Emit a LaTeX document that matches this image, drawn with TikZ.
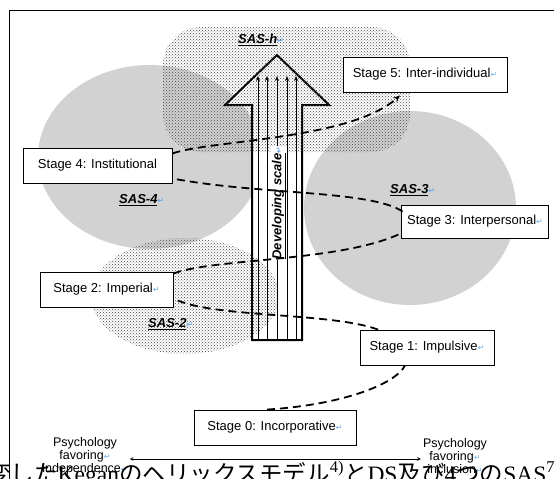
\documentclass[tikz,border=0pt]{standalone}
\usepackage{fontspec}
\setmainfont{Liberation Serif}
\setsansfont{Liberation Sans}
\newfontfamily\cjk{Noto Sans CJK JP}
\newfontfamily\symfont{DejaVu Sans}
\usepackage{tikz}
\usetikzlibrary{
    positioning,
    arrows.meta,
    calc,
    patterns
}
\definecolor{sasGray}{RGB}{210, 210, 210}
\definecolor{dotGray}{RGB}{70, 70, 70}
\definecolor{markBlue}{RGB}{110, 170, 230}
\newcommand{\retmark}{{\symfont\fontsize{8}{8}\selectfont\color{markBlue}↵}}

\begin{document}
\begin{tikzpicture}[x=1pt, y=-1pt, >=stealth,
    stagebox/.style={draw, line width=0.9pt, fill=white, minimum height=35pt,
        inner xsep=6pt, font=\sffamily\fontsize{13}{15}\selectfont},
    saslabel/.style={anchor=west, inner sep=0pt,
        font=\sffamily\bfseries\itshape\fontsize{13}{15}\selectfont},
    sidelabel/.style={align=center, inner sep=2pt,
        font=\sffamily\fontsize{12.5}{13}\selectfont},
    helix/.style={line width=1.8pt, dash pattern=on 8pt off 5pt}]
    \useasboundingbox (0,0) rectangle (554,479);

    % 枠
    \draw[line width=0.8pt] (9,490) -- (9,10) -- (560,10);

    % SAS領域
    \fill[sasGray] (150,157) ellipse [x radius=112, y radius=92]; % SAS-4
    \fill[sasGray] (410,208) ellipse [x radius=106, y radius=97]; % SAS-3

    % 発達の矢印
    \coordinate (tip) at (277,55);
    \coordinate (HL) at (225,105);
    \coordinate (HR) at (329,105);
    \draw[line width=2pt, fill=white] (252,340) -- (252,105) -- (HL) -- (tip)
        -- (HR) -- (302,105) -- (302,340) -- cycle;

    % 網掛け領域
    \fill[pattern=crosshatch dots, pattern color=dotGray, rounded corners=38pt]
        (163,27) rectangle (410,152); % SAS-h
    \fill[pattern=crosshatch dots, pattern color=dotGray]
        (185,296) ellipse [x radius=94, y radius=58]; % SAS-2

    % 目盛りの矢印
    \foreach \x in {258,267,277,287,296}
        \draw[-{Stealth[length=5pt, width=4pt]}, line width=0.8pt] (\x,340) -- (\x,76);
    \node[rotate=90, fill=white, inner sep=1pt,
        font=\sffamily\bfseries\itshape\fontsize{13}{15}\selectfont]
        (scale) at (279,203) {\underline{Developing scale}\retmark};

    % 段階
    \node[stagebox, minimum width=164pt] (s5) at (425,74.5) {Stage 5: Inter-individual\retmark};
    \node[stagebox, minimum width=149pt] (s4) at (97.5,165.5) {Stage 4: Institutional};
    \node[stagebox, minimum width=146pt, minimum height=33pt] (s3) at (475,221.5) {Stage 3: Interpersonal\retmark};
    \node[stagebox, minimum width=133pt] (s2) at (106.5,289.5) {Stage 2: Imperial\retmark};
    \node[stagebox, minimum width=134pt] (s1) at (427,347.5) {Stage 1: Impulsive\retmark};
    \node[stagebox, minimum width=162pt] (s0) at (275,427.5) {Stage 0: Incorporative\retmark};

    % らせん
    \draw[helix] ($(s0.north)+(-8,0)$) .. controls (340,405) and (395,385) .. ($(s1.south)+(-22,0)$);
    \draw[helix] ($(s1.north)+(-49,0)$) .. controls (330,312) and (210,318) .. ($(s2.east)+(0,9)$);
    \draw[helix] ($(s2.east)+(0,-16)$) .. controls (215,258) and (340,262) .. ($(s3.west)+(0,12)$);
    \draw[helix] ($(s3.west)+(2,-10)$) .. controls (370,190) and (260,195) .. ($(s4.east)+(0,13)$);
    \draw[helix, -{Stealth[length=7pt, width=6pt]}] ($(s4.east)+(0,-12)$) .. controls (210,140) and (350,140) .. ($(s5.south)+(-25,3)$);

    % ラベル
    \node[saslabel] (sash) at (238,40) {\underline{SAS-h}\retmark};
    \node[saslabel] (sas4) at (119,200) {\underline{SAS-4}\retmark};
    \node[saslabel] (sas3) at (390,190) {\underline{SAS-3}\retmark};
    \node[saslabel] (sas2) at (148,324) {\underline{SAS-2}\retmark};

    % 両端
    \node[sidelabel] (indep) at (85,456) {Psychology\\favoring\retmark\\independence\retmark};
    \node[sidelabel] (incl) at (455,456) {Psychology\\favoring\retmark\\inclusion\retmark};
    \draw[<->, line width=0.6pt] ([yshift=-3pt]indep.east) -- ([yshift=-3pt]incl.west);

    % 図題
    \node[anchor=base west, inner sep=0pt] (caption) at (-13,482)
        {\fontsize{23.5}{23.5}\selectfont\cjk 変した{\rmfamily Kegan}のヘリックスモデル\textsuperscript{\rmfamily 4)}と{\rmfamily DS}及び{\rmfamily 4}つの{\rmfamily SAS}\textsuperscript{\rmfamily 7}};
\end{tikzpicture}
\end{document}
